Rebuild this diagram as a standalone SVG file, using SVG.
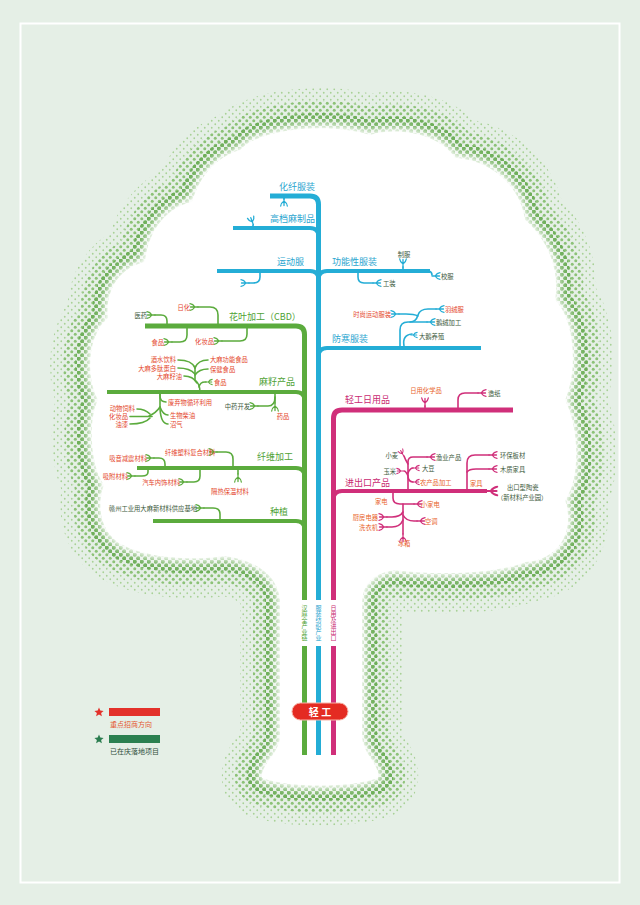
<svg xmlns="http://www.w3.org/2000/svg" xmlns:xlink="http://www.w3.org/1999/xlink" width="640" height="905" viewBox="0 0 640 905">
<defs>
<style>
.b{stroke:#24add6;fill:none;stroke-linecap:round;stroke-linejoin:round}
.g{stroke:#5bab3d;fill:none;stroke-linecap:round;stroke-linejoin:round}
.p{stroke:#d02f7a;fill:none;stroke-linecap:round;stroke-linejoin:round}
.w5{stroke-width:5;stroke-linecap:butt}
.w4{stroke-width:4;stroke-linecap:butt}
.w2{stroke-width:1.6}
.w1{stroke-width:1.3}
text{font-family:"Noto Sans CJK SC","Noto Sans",sans-serif}
.s{font-size:6.3px}
.m{font-size:9px}
.red{fill:#e4472c}
.or{fill:#e8632b}
.dk{fill:#3d5a3c}
.bt{fill:#2aa5cf}
.gt{fill:#4fa235}
.pt{fill:#c92a72}
.vt{writing-mode:vertical-rl;text-orientation:upright;font-size:6px}
</style>
<path id="sp" d="M-4 0 H3.5 M-1 0 Q1 -3 4 -3.3 M-1 0 Q1 3 4 3.3" fill="none"/>
<pattern id="d1" width="7" height="7" patternUnits="userSpaceOnUse"><circle cx="1.75" cy="1.75" r="0.9" fill="#a9d197"/><circle cx="5.25" cy="5.25" r="0.9" fill="#a9d197"/></pattern>
<pattern id="d2" width="7" height="7" patternUnits="userSpaceOnUse"><circle cx="1.75" cy="1.75" r="1.5" fill="#8cc277"/><circle cx="5.25" cy="5.25" r="1.5" fill="#8cc277"/></pattern>
<pattern id="d3" width="7" height="7" patternUnits="userSpaceOnUse"><circle cx="1.75" cy="1.75" r="2.1" fill="#6dae58"/><circle cx="5.25" cy="5.25" r="2.1" fill="#6dae58"/></pattern>
<filter id="blur" x="-10%" y="-10%" width="120%" height="120%"><feGaussianBlur stdDeviation="4"/></filter>
<path id="canopy" d="M 240 150 C 260 128, 330 122, 370 135 C 400 126, 440 135, 455 158 C 490 160, 520 185, 525 220 C 548 240, 560 270, 555 300 C 575 320, 578 370, 565 400 C 580 430, 580 480, 565 500 C 575 530, 560 560, 525 562 C 495 575, 430 575, 395 570 C 372 573, 362 585, 362 605 L 362 738 C 364 755, 380 765, 378 778 C 350 788, 290 788, 262 778 C 260 765, 278 755, 280 738 L 280 600 C 278 575, 255 560, 225 556 C 185 562, 135 556, 115 540 C 98 525, 98 500, 104 485 C 90 465, 88 420, 98 400 C 85 375, 88 335, 108 318 C 105 292, 118 268, 145 262 C 148 232, 165 208, 192 202 C 200 176, 215 158, 240 150 Z"/>
</defs>

<rect x="0" y="0" width="640" height="905" fill="#e5efe6"/>
<rect x="20.5" y="23.5" width="599" height="859" fill="none" stroke="#ffffff" stroke-width="2"/>

<g id="canopy-bg">
<use href="#canopy" fill="none" stroke="url(#d1)" stroke-width="80" stroke-linejoin="round"/>
<use href="#canopy" fill="none" stroke="url(#d2)" stroke-width="54" stroke-linejoin="round"/>
<use href="#canopy" fill="none" stroke="url(#d3)" stroke-width="30" stroke-linejoin="round"/>
<use href="#canopy" fill="#ffffff" stroke="#ffffff" stroke-width="8" filter="url(#blur)"/>
<use href="#canopy" fill="#ffffff"/>
</g>

<g id="connectors">
<!-- blue -->
<path class="b w5" d="M 270 196 H 310 Q 318.5 196 318.5 204.5 V 755"/>
<path class="b w4" d="M 233 228 H 310 Q 318.5 228 318.5 236.5"/>
<path class="b w4" d="M 217 271 H 310 Q 318.5 271 318.5 279.5"/>
<path class="b w4" d="M 430 271 H 327 Q 318.5 271 318.5 279.5"/>
<path class="b w4" d="M 481 348 H 327 Q 318.5 348 318.5 356.5"/>
<path class="b w2" d="M 284 196 V 199"/>
<use href="#sp" class="b w1" transform="translate(284,202) rotate(90)"/>
<path class="b w2" d="M 253 228 V 225"/>
<use href="#sp" class="b w1" transform="translate(252,221) rotate(-110)"/>
<path class="b w2" d="M 260 271 V 277 Q 260 283 253 283 H 249"/>
<use href="#sp" class="b w1" transform="translate(245,283) scale(-1,1)"/>
<path class="b w2" d="M 403 271 V 267"/>
<use href="#sp" class="b w1" transform="translate(403,263) rotate(-90)"/>
<path class="b w2" d="M 429 271 Q 432 272 432 275"/>
<use href="#sp" class="b w1" transform="translate(436,276)"/>
<path class="b w2" d="M 358 271 V 277 Q 358 283 364 283 H 373"/>
<use href="#sp" class="b w1" transform="translate(377,283)"/>
<path class="b w2" d="M 400 348 V 330 Q 400 322 408 322 H 427"/>
<use href="#sp" class="b w1" transform="translate(431,322)"/>
<path class="b w2" d="M 410 322 Q 416 322 418 315 Q 420 309 428 309 H 436"/>
<use href="#sp" class="b w1" transform="translate(440,309)"/>
<path class="b w2" d="M 418 316 Q 414 314 406 314 H 399"/>
<use href="#sp" class="b w1" transform="translate(395,314) scale(-1,1)"/>
<path class="b w2" d="M 404 346 Q 402 335 412 334"/>
<use href="#sp" class="b w1" transform="translate(414,335) scale(0.8)"/>

<!-- green -->
<path class="g w5" d="M 145 326 H 296 Q 304.5 326 304.5 334.5 V 755"/>
<path class="g w4" d="M 107 392 H 296 Q 304.5 392 304.5 400.5"/>
<path class="g w4" d="M 137 468 H 296 Q 304.5 468 304.5 476.5"/>
<path class="g w4" d="M 153 521 H 296 Q 304.5 521 304.5 529.5"/>
<path class="g w2" d="M 155 315 H 161 Q 167 315 167 321 V 326"/>
<use href="#sp" class="g w1" transform="translate(151,315) scale(-1,1)"/>
<path class="g w2" d="M 198 307 H 210 Q 218 307 218 315 V 326"/>
<use href="#sp" class="g w1" transform="translate(194,307) scale(-1,1)"/>
<path class="g w2" d="M 172 342 H 180 Q 187 342 187 335 V 326"/>
<use href="#sp" class="g w1" transform="translate(168,342) scale(-1,1)"/>
<path class="g w2" d="M 222 341 H 240 Q 247 341 247 334 V 326"/>
<use href="#sp" class="g w1" transform="translate(218,341) scale(-1,1)"/>
<path class="g w2" d="M 200 392 Q 200 384 195 380 V 366"/>
<path class="g w2" d="M 178 360 Q 192 360 195 368"/>
<path class="g w2" d="M 208 360 Q 198 360 195 368"/>
<path class="g w2" d="M 178 368 Q 190 368 195 374"/>
<path class="g w2" d="M 208 369 Q 199 369 195 375"/>
<path class="g w2" d="M 184 376 Q 193 376 197 383"/>
<path class="g w2" d="M 199 387 Q 200 382 205 382 H 206"/>
<use href="#sp" class="g w1" transform="translate(209,382) scale(0.8)"/>
<path class="g w2" d="M 160 392 V 396 Q 160 402 166 402"/>
<path class="g w2" d="M 160 392 V 408"/>
<path class="g w2" d="M 160 407 Q 156 413 149 416"/>
<path class="g w2" d="M 137 409 Q 145 409 150 414"/>
<path class="g w2" d="M 130 416.5 H 152"/>
<path class="g w2" d="M 130 424 Q 145 424 150 418"/>
<path class="g w2" d="M 160 407 Q 163 415 168 415"/>
<path class="g w2" d="M 160 409 Q 161 424 168 424"/>
<path class="g w2" d="M 275 392 V 403"/>
<use href="#sp" class="g w1" transform="translate(275,407) rotate(90)"/>
<path class="g w2" d="M 275 397 Q 275 406 268 406 H 258"/>
<use href="#sp" class="g w1" transform="translate(254,406) scale(-1,1)"/>
<path class="g w2" d="M 217 452 H 226 Q 233 452 233 459 V 468"/>
<use href="#sp" class="g w1" transform="translate(213,452) scale(-1,1)"/>
<path class="g w2" d="M 154 458 H 159 Q 165 458 165 464 V 468"/>
<use href="#sp" class="g w1" transform="translate(150,458) scale(-1,1)"/>
<path class="g w2" d="M 135 476 H 142 Q 148 476 148 472 V 468"/>
<use href="#sp" class="g w1" transform="translate(131,476) scale(-1,1)"/>
<path class="g w2" d="M 187 482 H 194 Q 200 482 200 476 V 468"/>
<use href="#sp" class="g w1" transform="translate(183,482) scale(-1,1)"/>
<path class="g w2" d="M 238 468 V 474"/>
<use href="#sp" class="g w1" transform="translate(238,478) rotate(90)"/>
<path class="g w2" d="M 204 508 H 213 Q 220 508 220 514 V 521"/>
<use href="#sp" class="g w1" transform="translate(200,508) scale(-1,1)"/>

<!-- pink -->
<path class="p w5" d="M 333.5 755 V 418.5 Q 333.5 410 342 410 H 513"/>
<path class="p w4" d="M 487 491 H 342 Q 333.5 491 333.5 499.5"/>
<use href="#sp" class="p w2" transform="translate(492,491) scale(1.3)"/>
<path class="p w2" d="M 425 410 V 406"/>
<use href="#sp" class="p w1" transform="translate(425,402) rotate(-90)"/>
<path class="p w2" d="M 458 410 V 400 Q 458 393 465 393 H 478"/>
<use href="#sp" class="p w1" transform="translate(482,393)"/>
<path class="p w2" d="M 408 491 V 462 Q 408 457 413 457 H 427"/>
<use href="#sp" class="p w1" transform="translate(431,457)"/>
<path class="p w2" d="M 408 464 Q 405 459 404 456"/>
<use href="#sp" class="p w1" transform="translate(402,453) rotate(-120) scale(0.8)"/>
<path class="p w2" d="M 408 476 Q 406 471 404 471"/>
<use href="#sp" class="p w1" transform="translate(400,471) scale(-0.8,0.8)"/>
<path class="p w2" d="M 408 473 Q 410 468 413 468"/>
<use href="#sp" class="p w1" transform="translate(416,468) scale(0.8)"/>
<path class="p w2" d="M 408 477 Q 409 482 413 482"/>
<use href="#sp" class="p w1" transform="translate(416,482) scale(0.8)"/>
<path class="p w2" d="M 467 491 V 463 Q 467 455 475 455 H 489"/>
<use href="#sp" class="p w1" transform="translate(493,455)"/>
<path class="p w2" d="M 467 472 Q 469 469 476 469 H 489"/>
<use href="#sp" class="p w1" transform="translate(493,469)"/>
<path class="p w2" d="M 393 491 V 498 Q 393 504 400 504 H 414"/>
<use href="#sp" class="p w1" transform="translate(418,504)"/>
<path class="p w2" d="M 403 504 V 534"/>
<use href="#sp" class="p w1" transform="translate(403,538) rotate(90)"/>
<path class="p w2" d="M 403 512 Q 400 517 392 517 H 387"/>
<use href="#sp" class="p w1" transform="translate(383,517) scale(-1,1)"/>
<path class="p w2" d="M 403 515 Q 406 521 414 521 H 417"/>
<use href="#sp" class="p w1" transform="translate(421,521)"/>
<path class="p w2" d="M 403 520 Q 400 527 392 527 H 387"/>
<use href="#sp" class="p w1" transform="translate(383,527) scale(-1,1)"/>
</g>

<g id="trunk-labels">
<rect x="300" y="600" width="9" height="46" fill="#ffffff"/>
<rect x="314" y="600" width="9" height="46" fill="#ffffff"/>
<rect x="329" y="600" width="9" height="46" fill="#ffffff"/>
<text class="vt gt" x="304.5" y="605">汉麻全产业链</text>
<text class="vt bt" x="318.5" y="605">服装纺织产业</text>
<text class="vt pt" x="333.5" y="605">日用及进出口</text>
</g>

<g id="root">
<rect x="292" y="703" width="56" height="17" rx="8.5" fill="#e42b22" stroke="#f6b4a8" stroke-width="1"/>
<text x="320" y="715.5" text-anchor="middle" font-size="10" font-weight="bold" fill="#ffffff">轻 工</text>
</g>

<g id="blue-nodes">
<text id="n-huaxian" class="m bt" x="279" y="190">化纤服装</text>
<text id="n-gaodang" class="m bt" x="270" y="222">高档麻制品</text>
<text id="n-yundong" class="m bt" x="277" y="265">运动服</text>
<text id="n-gongneng" class="m bt" x="332" y="265">功能性服装</text>
<text id="n-zhifu" class="s dk" x="404" y="257" text-anchor="middle">制服</text>
<text id="n-xiaofu" class="s dk" x="441" y="278.5">校服</text>
<text id="n-gongzhuang" class="s dk" x="383" y="286">工装</text>
<text id="n-fanghan" class="m bt" x="332" y="342">防寒服装</text>
<text id="n-shishang" class="s red" x="391" y="316.5" text-anchor="end">时尚运动服装</text>
<text id="n-yurong" class="s red" x="445" y="311.5">羽绒服</text>
<text id="n-erong" class="s dk" x="436" y="324.5">鹅绒加工</text>
<text id="n-dae" class="s dk" x="419" y="338.5">大鹅养殖</text>
</g>

<g id="green-nodes">
<text id="n-cbd" class="m gt" x="229" y="320">花叶加工（CBD）</text>
<text id="n-yiyao" class="s dk" x="147" y="317.5" text-anchor="end">医药</text>
<text id="n-rihua" class="s red" x="190" y="309.5" text-anchor="end">日化</text>
<text id="n-shipin1" class="s red" x="164" y="344.5" text-anchor="end">食品</text>
<text id="n-huazhuang1" class="s red" x="214" y="343.5" text-anchor="end">化妆品</text>
<text id="n-mazi" class="m gt" x="259" y="385">麻籽产品</text>
<text id="n-jiushui" class="s red" x="176" y="362" text-anchor="end">酒水饮料</text>
<text id="n-duotai" class="s red" x="176" y="370.5" text-anchor="end">大麻多肽蛋白</text>
<text id="n-ziyou" class="s red" x="182" y="379" text-anchor="end">大麻籽油</text>
<text id="n-gongnengsp" class="s red" x="210" y="362">大麻功能食品</text>
<text id="n-baojian" class="s red" x="210" y="371.5">保健食品</text>
<text id="n-shipin2" class="s red" x="214" y="384.5">食品</text>
<text id="n-feiqiwu" class="s red" x="168" y="404.5">废弃物循环利用</text>
<text id="n-siliao" class="s red" x="135" y="411" text-anchor="end">动物饲料</text>
<text id="n-huazhuang2" class="s red" x="128" y="419" text-anchor="end">化妆品</text>
<text id="n-youqi" class="s red" x="128" y="427" text-anchor="end">油漆</text>
<text id="n-chaiyou" class="s red" x="170" y="417.5">生物柴油</text>
<text id="n-zhaoqi" class="s red" x="170" y="426.5">沼气</text>
<text id="n-zhongyao" class="s dk" x="250" y="408.5" text-anchor="end">中药开发</text>
<text id="n-yaopin" class="s red" x="283" y="419" text-anchor="middle">药品</text>
<text id="n-xianwei" class="m gt" x="257" y="460">纤维加工</text>
<text id="n-fuhe" class="s red" x="165" y="454.5">纤维塑料复合材料</text>
<text id="n-xiyin" class="s red" x="147" y="460.5" text-anchor="end">吸音减震材料</text>
<text id="n-xifu" class="s red" x="128" y="478.5" text-anchor="end">吸附材料</text>
<text id="n-qiche" class="s red" x="180" y="484.5" text-anchor="end">汽车内饰材料</text>
<text id="n-gere" class="s red" x="230" y="493.5" text-anchor="middle">隔热保温材料</text>
<text id="n-zhongzhi" class="m gt" x="270" y="515">种植</text>
<text id="n-ganzhou" class="s dk" x="197" y="510.5" text-anchor="end">赣州工业用大麻新材料供应基地</text>
</g>

<g id="pink-nodes">
<text id="n-riyong" class="m pt" x="345" y="403">轻工日用品</text>
<text id="n-huaxue" class="s or" x="426" y="393" text-anchor="middle">日用化学品</text>
<text id="n-zaozhi" class="s dk" x="488" y="395.5">造纸</text>
<text id="n-jinchukou" class="m pt" x="345" y="486">进出口产品</text>
<text id="n-xiaomai" class="s dk" x="398" y="457.5" text-anchor="end">小麦</text>
<text id="n-yuye" class="s dk" x="436" y="459.5">渔业产品</text>
<text id="n-yumi" class="s dk" x="396" y="473.5" text-anchor="end">玉米</text>
<text id="n-dadou" class="s dk" x="422" y="470.5">大豆</text>
<text id="n-nongchanpin" class="s or" x="420" y="484.5">农产品加工</text>
<text id="n-huanbao" class="s dk" x="500" y="457.5">环保板材</text>
<text id="n-muzhi" class="s dk" x="500" y="471.5">木质家具</text>
<text id="n-jiaju" class="s or" x="470" y="486">家具</text>
<text id="n-taoci" class="s dk" x="507" y="489.5">出口型陶瓷</text>
<text id="n-xinchanye" class="s dk" x="497" y="499.5">（新材料产业园）</text>
<text id="n-jiadian" class="s or" x="375" y="503.5">家电</text>
<text id="n-xiaojiadian" class="s or" x="421" y="506.5">小家电</text>
<text id="n-chufang" class="s or" x="378" y="519.5" text-anchor="end">厨房电器</text>
<text id="n-kongtiao" class="s or" x="425" y="523.5">空调</text>
<text id="n-xiyiji" class="s or" x="378" y="529.5" text-anchor="end">洗衣机</text>
<text id="n-bingxiang" class="s or" x="404" y="546" text-anchor="middle">冰箱</text>
</g>

<g id="legend">
<polygon points="99,707.5 100.3,710.6 103.6,710.9 101.1,713 101.9,716.3 99,714.5 96.1,716.3 96.9,713 94.4,710.9 97.7,710.6" fill="#e3312a"/>
<rect x="109" y="708" width="51" height="8" fill="#e3312a"/>
<text x="110" y="727" font-size="7" fill="#e4572e">重点招商方向</text>
<polygon points="99,734.5 100.3,737.6 103.6,737.9 101.1,740 101.9,743.3 99,741.5 96.1,743.3 96.9,740 94.4,737.9 97.7,737.6" fill="#2a7d4f"/>
<rect x="109" y="735" width="51" height="8" fill="#2b8050"/>
<text x="110" y="754" font-size="7" fill="#2e4d3a">已在庆落地项目</text>
</g>
</svg>
